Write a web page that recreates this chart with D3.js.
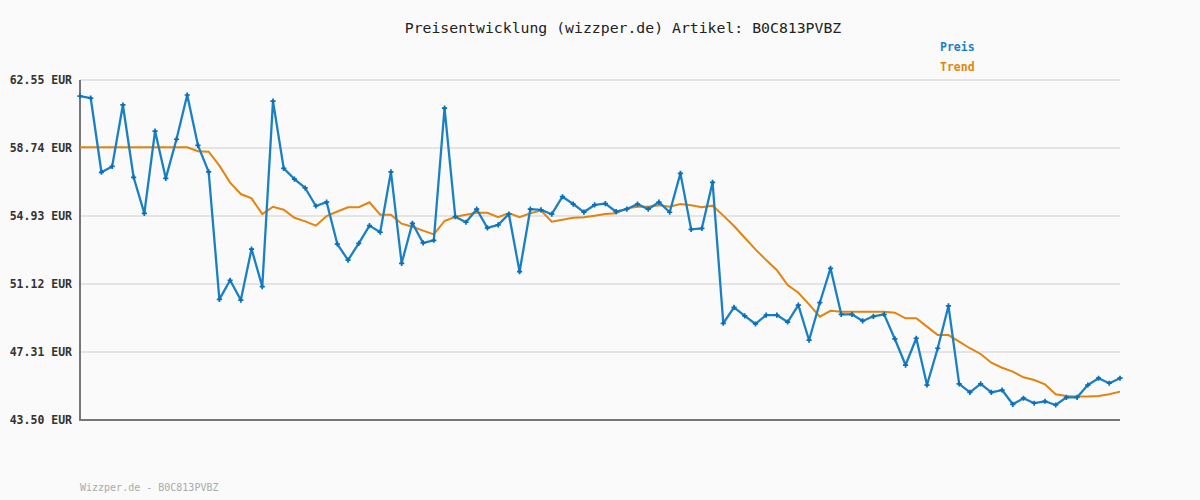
<!DOCTYPE html>
<html>
<head>
<meta charset="utf-8">
<script src="https://cdn.jsdelivr.net/npm/d3@7"></script>
<style>
  html, body { margin: 0; padding: 0; background: #fafafa; }
</style>
</head>
<body>
<div id="chart"></div>
<script>
var title = 'Preisentwicklung (wizzper.de) Artikel: B0C813PVBZ';
var footer = 'Wizzper.de - B0C813PVBZ';
var seriesNames = ['Preis', 'Trend'];
var yTicks = [43.50, 47.31, 51.12, 54.93, 58.74, 62.55];

// Preis (blue line), one value per observation
var preis = [
    61.65, 61.54, 57.38, 57.71, 61.15, 57.10, 55.08, 59.69, 57.04, 59.23,
    61.71, 58.89, 57.40, 50.26, 51.33, 50.22, 53.08, 50.97, 61.37, 57.60,
    57.00, 56.50, 55.49, 55.71, 53.36, 52.46, 53.40, 54.39, 54.02, 57.40,
    52.28, 54.52, 53.42, 53.57, 60.98, 54.89, 54.58, 55.31, 54.26, 54.43,
    55.04, 51.81, 55.31, 55.27, 55.03, 56.01, 55.60, 55.15, 55.55, 55.62,
    55.17, 55.31, 55.60, 55.31, 55.71, 55.14, 57.32, 54.18, 54.24, 56.82,
    48.92, 49.81, 49.33, 48.88, 49.38, 49.38, 48.99, 49.94, 47.97, 50.07,
    52.00, 49.42, 49.42, 49.05, 49.31, 49.42, 48.04, 46.58, 48.08, 45.46,
    47.52, 49.89, 45.52, 45.05, 45.52, 45.05, 45.18, 44.38, 44.72, 44.44,
    44.55, 44.34, 44.77, 44.77, 45.46, 45.84, 45.56, 45.84
];

// Trend (orange line)
var trend = [
    58.78, 58.78, 58.78, 58.78, 58.78, 58.78, 58.78, 58.78, 58.78, 58.78,
    58.78, 58.56, 58.53, 57.75, 56.80, 56.16, 55.92, 55.04, 55.45, 55.28,
    54.83, 54.63, 54.39, 54.93, 55.18, 55.42, 55.42, 55.70, 55.00, 55.00,
    54.50, 54.33, 54.11, 53.90, 54.65, 54.89, 55.00, 55.11, 55.11, 54.86,
    55.10, 54.86, 55.08, 55.23, 54.61, 54.72, 54.83, 54.86, 54.95, 55.04,
    55.08, 55.36, 55.45, 55.45, 55.53, 55.45, 55.60, 55.53, 55.42, 55.51,
    54.95, 54.37, 53.71, 53.06, 52.46, 51.89, 51.06, 50.63, 49.98, 49.29,
    49.62, 49.57, 49.57, 49.57, 49.57, 49.57, 49.51, 49.20, 49.20, 48.73,
    48.26, 48.26, 47.89, 47.52, 47.20, 46.71, 46.43, 46.21, 45.89, 45.74,
    45.50, 44.94, 44.85, 44.81, 44.81, 44.85, 44.94, 45.09
];

var width = 1200, height = 500;
var margin = {top: 80, right: 80, bottom: 80, left: 80};
var blue = '#1a80c6';
var orange = '#e3840f';
var mono = '"DejaVu Sans Mono", "Liberation Mono", monospace';

var svg = d3.select('#chart')
    .append('svg')
    .attr('width', width)
    .attr('height', height)
    .style('background', '#fafafa');

var x = d3.scaleLinear()
    .domain([0, preis.length - 1])
    .range([margin.left, width - margin.right]);

var y = d3.scaleLinear()
    .domain([yTicks[0], yTicks[yTicks.length - 1]])
    .range([height - margin.bottom, margin.top]);

//Gridlines
svg.append('g')
    .selectAll('line')
    .data(yTicks)
    .enter()
    .append('line')
    .attr('x1', margin.left)
    .attr('x2', width - margin.right)
    .attr('y1', function(d){ return y(d); })
    .attr('y2', function(d){ return y(d); })
    .style('stroke', '#e4e4e4')
    .style('stroke-width', 2);

//Y axis labels
var yAxis = d3.axisLeft(y)
    .tickValues(yTicks)
    .tickSize(0)
    .tickPadding(8)
    .tickFormat(function(d){ return d3.format('.2f')(d) + ' EUR'; });

var yg = svg.append('g')
    .attr('transform', 'translate(' + margin.left + ',0)')
    .call(yAxis);
yg.select('.domain').remove();
yg.selectAll('text')
    .style('font-family', mono)
    .style('font-size', '11.5px')
    .style('font-weight', 700)
    .style('fill', '#333');

//Axis lines
svg.append('line')
    .attr('x1', margin.left).attr('x2', margin.left)
    .attr('y1', y(yTicks[yTicks.length - 1])).attr('y2', y(yTicks[0]) + 1)
    .style('stroke', '#777').style('stroke-width', 2);
svg.append('line')
    .attr('x1', margin.left - 1).attr('x2', width - margin.right)
    .attr('y1', y(yTicks[0])).attr('y2', y(yTicks[0]))
    .style('stroke', '#777').style('stroke-width', 2);

//Lines
var line = d3.line()
    .x(function(d, i){ return x(i); })
    .y(function(d){ return y(d); });

svg.append('path')
    .datum(trend)
    .attr('d', line)
    .style('fill', 'none')
    .style('stroke', orange)
    .style('stroke-width', 2);

svg.append('path')
    .datum(preis)
    .attr('d', line)
    .style('fill', 'none')
    .style('stroke', blue)
    .style('stroke-width', 2.3)
    .style('stroke-linejoin', 'round');

var cross = d3.symbol().type(d3.symbolCross).size(15);
svg.append('g')
    .selectAll('path')
    .data(preis)
    .enter()
    .append('path')
    .attr('d', cross)
    .attr('transform', function(d, i){ return 'translate(' + x(i) + ',' + y(d) + ')'; })
    .style('fill', '#0a6fb8');

//Title
svg.append('text')
    .attr('x', 623)
    .attr('y', 33)
    .attr('text-anchor', 'middle')
    .style('font-family', mono)
    .style('font-size', '14.8px')
    .style('fill', '#222')
    .text(title);

//Legend
svg.append('text')
    .attr('x', 940).attr('y', 51)
    .style('font-family', mono)
    .style('font-size', '11.5px')
    .style('font-weight', 700)
    .style('fill', blue)
    .text(seriesNames[0]);
svg.append('text')
    .attr('x', 940).attr('y', 71)
    .style('font-family', mono)
    .style('font-size', '11.5px')
    .style('font-weight', 700)
    .style('fill', orange)
    .text(seriesNames[1]);

//Footer
svg.append('text')
    .attr('x', 80).attr('y', 491)
    .style('font-family', mono)
    .style('font-size', '10px')
    .style('fill', '#aaa')
    .text(footer);
</script>
</body>
</html>
